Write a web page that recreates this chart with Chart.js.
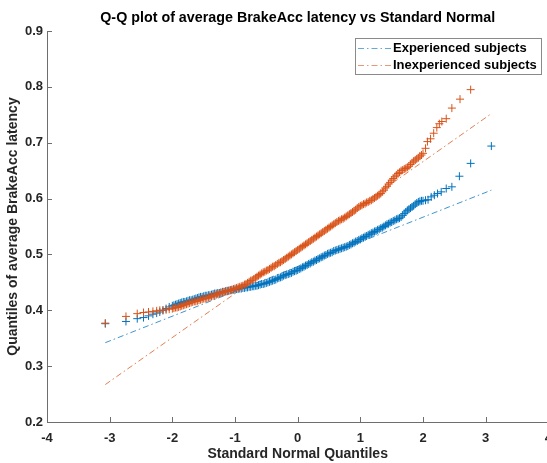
<!DOCTYPE html>
<html>
<head>
<meta charset="utf-8">
<script src="https://cdn.jsdelivr.net/npm/chart.js@4.4.1/dist/chart.umd.min.js"></script>
<style>
  html, body { margin: 0; padding: 0; overflow: hidden; background: #fff; }
  canvas { display: block; }
</style>
</head>
<body>
<canvas id="qq" width="561" height="463"></canvas>
<script>
// standard normal quantiles (x) and sample quantiles (y)
const expX = [-3.07, -2.74, -2.56, -2.46, -2.38, -2.31, -2.25, -2.20, -2.15, -2.10, -2.05,
  -2.00, -1.95, -1.90, -1.85, -1.80, -1.75, -1.70, -1.65, -1.60, -1.55,
  -1.50, -1.45, -1.40, -1.35, -1.30, -1.25, -1.20, -1.15, -1.10, -1.05,
  -1.00, -0.95, -0.90, -0.85, -0.80, -0.75, -0.70, -0.65, -0.60, -0.55,
  -0.50, -0.45, -0.40, -0.35, -0.30, -0.25, -0.20, -0.15, -0.10, -0.05, 0.00,
  0.05, 0.10, 0.15, 0.20, 0.25, 0.30, 0.35, 0.40, 0.45, 0.50,
  0.55, 0.60, 0.65, 0.70, 0.75, 0.80, 0.85, 0.90, 0.95, 1.00,
  1.05, 1.10, 1.15, 1.20, 1.25, 1.30, 1.35, 1.40, 1.45, 1.50,
  1.55, 1.60, 1.65, 1.70, 1.75, 1.80, 1.85, 1.90, 1.95, 2.00,
  2.04, 2.08, 2.13, 2.18, 2.23, 2.29, 2.37, 2.46, 2.58, 2.76, 3.09];
const expY = [0.376, 0.380, 0.385, 0.387, 0.390, 0.393, 0.395, 0.397, 0.400, 0.403, 0.406,
  0.408, 0.410, 0.412, 0.414, 0.415, 0.417, 0.418, 0.420, 0.422, 0.424,
  0.425, 0.426, 0.427, 0.429, 0.430, 0.431, 0.433, 0.434, 0.435, 0.436,
  0.437, 0.438, 0.439, 0.440, 0.441, 0.442, 0.443, 0.444, 0.446, 0.447,
  0.449, 0.451, 0.453, 0.455, 0.458, 0.460, 0.463, 0.465, 0.467, 0.470, 0.472,
  0.475, 0.478, 0.481, 0.484, 0.487, 0.490, 0.493, 0.496, 0.499, 0.502,
  0.504, 0.507, 0.509, 0.511, 0.513, 0.515, 0.518, 0.521, 0.524, 0.527,
  0.530, 0.533, 0.536, 0.539, 0.542, 0.545, 0.548, 0.552, 0.555, 0.558,
  0.561, 0.564, 0.567, 0.573, 0.579, 0.583, 0.587, 0.592, 0.595, 0.596,
  0.597, 0.598, 0.603, 0.606, 0.609, 0.612, 0.618, 0.621, 0.640, 0.663, 0.694];
// the quantiles lying between the ones above, in the dense middle band
const expXb = [-1.975, -1.925, -1.875, -1.825, -1.775, -1.725, -1.675, -1.625, -1.575, -1.525,
  -1.475, -1.425, -1.375, -1.325, -1.275, -1.225, -1.175, -1.125, -1.075, -1.025,
  -0.975, -0.925, -0.875, -0.825, -0.775, -0.725, -0.675, -0.625, -0.575, -0.525,
  -0.475, -0.425, -0.375, -0.325, -0.275, -0.225, -0.175, -0.125, -0.075, -0.025,
  0.025, 0.075, 0.125, 0.175, 0.225, 0.275, 0.325, 0.375, 0.425, 0.475,
  0.525, 0.575, 0.625, 0.675, 0.725, 0.775, 0.825, 0.875, 0.925, 0.975,
  1.025, 1.075, 1.125, 1.175, 1.225, 1.275, 1.325, 1.375, 1.425, 1.475,
  1.525, 1.575, 1.625, 1.675, 1.725, 1.775, 1.825, 1.875, 1.925, 1.975];
const expYb = [0.409, 0.411, 0.413, 0.415, 0.416, 0.418, 0.419, 0.421, 0.423, 0.424,
  0.426, 0.427, 0.428, 0.430, 0.431, 0.432, 0.433, 0.435, 0.436, 0.437,
  0.438, 0.439, 0.440, 0.441, 0.442, 0.443, 0.444, 0.445, 0.447, 0.448,
  0.450, 0.452, 0.454, 0.457, 0.459, 0.462, 0.464, 0.466, 0.469, 0.471,
  0.474, 0.477, 0.480, 0.483, 0.486, 0.489, 0.492, 0.495, 0.498, 0.501,
  0.503, 0.506, 0.508, 0.510, 0.512, 0.514, 0.517, 0.520, 0.523, 0.526,
  0.529, 0.532, 0.535, 0.538, 0.541, 0.544, 0.547, 0.550, 0.554, 0.557,
  0.560, 0.563, 0.565, 0.570, 0.576, 0.581, 0.585, 0.590, 0.594, 0.596];

const inexpX = [-3.07, -2.74, -2.56, -2.46, -2.38, -2.31, -2.25, -2.20, -2.15, -2.10, -2.05,
  -2.00, -1.95, -1.90, -1.85, -1.80, -1.75, -1.70, -1.65, -1.60, -1.55,
  -1.50, -1.45, -1.40, -1.35, -1.30, -1.25, -1.20, -1.15, -1.10, -1.05,
  -1.00, -0.95, -0.90, -0.85, -0.80, -0.75, -0.70, -0.65, -0.60, -0.55,
  -0.50, -0.45, -0.40, -0.35, -0.30, -0.25, -0.20, -0.15, -0.10, -0.05, 0.00,
  0.05, 0.10, 0.15, 0.20, 0.25, 0.30, 0.35, 0.40, 0.45, 0.50,
  0.55, 0.60, 0.65, 0.70, 0.75, 0.80, 0.85, 0.90, 0.95, 1.00,
  1.05, 1.10, 1.15, 1.20, 1.25, 1.30, 1.35, 1.40, 1.45, 1.50,
  1.55, 1.60, 1.65, 1.70, 1.75, 1.80, 1.85, 1.90, 1.95, 2.00,
  2.04, 2.07, 2.12, 2.17, 2.22, 2.26, 2.30, 2.37, 2.46, 2.59, 2.76];
const inexpY = [0.377, 0.389, 0.394, 0.396, 0.397, 0.398, 0.399, 0.400, 0.400, 0.401, 0.402,
  0.403, 0.405, 0.406, 0.408, 0.410, 0.412, 0.414, 0.416, 0.417, 0.419,
  0.421, 0.422, 0.424, 0.426, 0.428, 0.430, 0.432, 0.434, 0.435, 0.437,
  0.439, 0.441, 0.443, 0.446, 0.449, 0.453, 0.456, 0.460, 0.464, 0.468,
  0.471, 0.474, 0.478, 0.481, 0.485, 0.488, 0.492, 0.496, 0.500, 0.504, 0.508,
  0.512, 0.516, 0.520, 0.524, 0.528, 0.532, 0.536, 0.540, 0.544, 0.548,
  0.552, 0.556, 0.560, 0.563, 0.566, 0.570, 0.574, 0.578, 0.583, 0.587,
  0.590, 0.593, 0.596, 0.599, 0.603, 0.607, 0.612, 0.619, 0.626, 0.633,
  0.639, 0.645, 0.650, 0.653, 0.656, 0.661, 0.667, 0.671, 0.676, 0.681,
  0.690, 0.702, 0.707, 0.717, 0.727, 0.734, 0.738, 0.743, 0.762, 0.778, 0.795];
const inexpXb = [-1.975, -1.925, -1.875, -1.825, -1.775, -1.725, -1.675, -1.625, -1.575, -1.525,
  -1.475, -1.425, -1.375, -1.325, -1.275, -1.225, -1.175, -1.125, -1.075, -1.025,
  -0.975, -0.925, -0.875, -0.825, -0.775, -0.725, -0.675, -0.625, -0.575, -0.525,
  -0.475, -0.425, -0.375, -0.325, -0.275, -0.225, -0.175, -0.125, -0.075, -0.025,
  0.025, 0.075, 0.125, 0.175, 0.225, 0.275, 0.325, 0.375, 0.425, 0.475,
  0.525, 0.575, 0.625, 0.675, 0.725, 0.775, 0.825, 0.875, 0.925, 0.975,
  1.025, 1.075, 1.125, 1.175, 1.225, 1.275, 1.325, 1.375, 1.425, 1.475,
  1.525, 1.575, 1.625, 1.675, 1.725, 1.775, 1.825, 1.875, 1.925, 1.975];
const inexpYb = [0.404, 0.405, 0.407, 0.409, 0.411, 0.413, 0.415, 0.416, 0.418, 0.420,
  0.421, 0.423, 0.425, 0.427, 0.429, 0.431, 0.433, 0.434, 0.436, 0.438,
  0.440, 0.442, 0.444, 0.447, 0.451, 0.454, 0.458, 0.462, 0.466, 0.469,
  0.472, 0.476, 0.479, 0.483, 0.486, 0.490, 0.494, 0.498, 0.502, 0.506,
  0.510, 0.514, 0.518, 0.522, 0.526, 0.530, 0.534, 0.538, 0.542, 0.546,
  0.550, 0.554, 0.558, 0.561, 0.564, 0.568, 0.572, 0.576, 0.580, 0.585,
  0.588, 0.591, 0.594, 0.597, 0.601, 0.605, 0.609, 0.615, 0.622, 0.629,
  0.636, 0.642, 0.647, 0.651, 0.654, 0.658, 0.664, 0.669, 0.673, 0.678];

// reference lines (end points)
const refX = [-3.07, 3.09];
const expRefY = [0.342, 0.615];
const inexpRefY = [0.267, 0.752];

const seriesNames = ['Experienced subjects', 'Inexperienced subjects'];
const BLUE = '#0072BD';
const ORANGE = '#D95319';
const AXIS = '#6e6e6e';
const FONT = "'Liberation Sans', Arial, Helvetica, sans-serif";

const pts = (xs, ys) => xs.map((x, i) => ({ x: x, y: ys[i] }));

// inward ticks, title and boxed legend, drawn MATLAB style
const qqDecor = {
  id: 'qqDecor',
  afterDraw(chart) {
    const { ctx, chartArea: a, scales: { x, y } } = chart;
    ctx.save();
    ctx.strokeStyle = AXIS;
    ctx.lineWidth = 1;
    ctx.beginPath();
    x.ticks.forEach(t => {
      const px = Math.round(x.getPixelForValue(t.value)) + 0.5;
      ctx.moveTo(px, a.bottom);
      ctx.lineTo(px, a.bottom - 5);
    });
    y.ticks.forEach(t => {
      const py = Math.round(y.getPixelForValue(t.value)) + 0.5;
      ctx.moveTo(a.left, py);
      ctx.lineTo(a.left + 5, py);
    });
    ctx.stroke();

    ctx.fillStyle = '#000';
    ctx.font = 'bold 14.3px ' + FONT;
    ctx.textAlign = 'center';
    ctx.textBaseline = 'middle';
    ctx.fillText('Q-Q plot of average BrakeAcc latency vs Standard Normal', (a.left + a.right) / 2, 18);

    // legend
    const bx = 355.5, by = 38.5, bw = 186, bh = 36;
    ctx.fillStyle = '#fff';
    ctx.fillRect(bx, by, bw, bh);
    ctx.strokeStyle = '#8a8a8a';
    ctx.strokeRect(bx, by, bw, bh);
    const rows = [
      { label: seriesNames[0], color: 'rgba(0,114,189,0.6)', y: 48 },
      { label: seriesNames[1], color: 'rgba(217,83,25,0.6)', y: 65 }
    ];
    ctx.font = 'bold 13px ' + FONT;
    ctx.textAlign = 'left';
    rows.forEach(r => {
      ctx.strokeStyle = r.color;
      ctx.setLineDash([6, 3, 1.5, 3]);
      ctx.beginPath();
      ctx.moveTo(358, r.y + 0.5);
      ctx.lineTo(392, r.y + 0.5);
      ctx.stroke();
      ctx.setLineDash([]);
      ctx.fillStyle = '#000';
      ctx.fillText(r.label, 393, r.y);
    });
    ctx.restore();
  }
};

const tickFont = { family: FONT, size: 13, weight: 'bold' };
const titleFont = { family: FONT, size: 14, weight: 'bold' };

new Chart(document.getElementById('qq'), {
  type: 'scatter',
  data: {
    datasets: [
      {
        type: 'line', label: seriesNames[1], data: pts(refX, inexpRefY), order: 0,
        borderColor: 'rgba(217,83,25,0.75)', borderWidth: 1, borderDash: [6, 3, 1.5, 3],
        pointRadius: 0, fill: false
      },
      {
        label: 'inexp data', data: pts(inexpX.concat(inexpXb), inexpY.concat(inexpYb)), order: 1,
        pointStyle: 'cross', pointRadius: 4, pointBorderWidth: 1,
        borderColor: ORANGE, backgroundColor: ORANGE
      },
      {
        type: 'line', label: seriesNames[0], data: pts(refX, expRefY), order: 2,
        borderColor: 'rgba(0,114,189,0.75)', borderWidth: 1, borderDash: [6, 3, 1.5, 3],
        pointRadius: 0, fill: false
      },
      {
        label: 'exp data', data: pts(expX.concat(expXb), expY.concat(expYb)), order: 3,
        pointStyle: 'cross', pointRadius: 4, pointBorderWidth: 1,
        borderColor: BLUE, backgroundColor: BLUE
      }
    ]
  },
  options: {
    responsive: false,
    animation: false,
    layout: { padding: { top: 31, left: 0, right: 0, bottom: 0 } },
    plugins: {
      legend: { display: false },
      title: { display: false },
      tooltip: { enabled: false }
    },
    scales: {
      x: {
        type: 'linear', min: -4, max: 4,
        ticks: { stepSize: 1, padding: 9, color: '#262626', font: tickFont, maxRotation: 0, autoSkip: false },
        grid: { display: false, drawTicks: false },
        border: { display: true, color: AXIS, width: 1 },
        title: { display: true, text: 'Standard Normal Quantiles', color: '#262626', font: titleFont, padding: { top: 0, bottom: 0 } },
        afterFit: s => { s.height = 41; }
      },
      y: {
        type: 'linear', min: 0.2, max: 0.9,
        ticks: { stepSize: 0.1, padding: 4, color: '#262626', font: tickFont, callback: v => v.toFixed(1) },
        grid: { display: false, drawTicks: false },
        border: { display: true, color: AXIS, width: 1 },
        title: { display: true, text: 'Quantiles of average BrakeAcc latency', color: '#262626', font: titleFont, padding: { top: 5, bottom: 0 } },
        afterFit: s => { s.width = 47; }
      }
    }
  },
  plugins: [qqDecor]
});
</script>
</body>
</html>
